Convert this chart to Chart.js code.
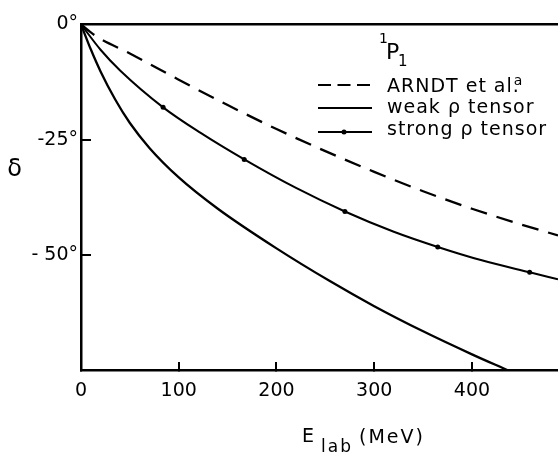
<!DOCTYPE html>
<html>
<head>
<meta charset="utf-8">
<script src="https://cdn.jsdelivr.net/npm/chart.js@4.4.0/dist/chart.umd.min.js"></script>
<style>
  html, body { margin: 0; padding: 0; background: #fff; }
</style>
</head>
<body>
<canvas id="phaseChart" width="558" height="453"></canvas>
<script>
// 1P1 phase shift vs lab energy
const xTicks = [0, 100, 200, 300, 400];
const xTickLabels = ['0', '100', '200', '300', '400'];
const yTicks = [0, -25, -50];
const yTickLabels = ['0°', '-25°', '- 50°'];

const arndtE     = [0, 15, 50, 100, 150, 200, 250, 300, 350, 400, 450, 488];
const arndtDelta = [0, -2.5, -6.3, -12, -17.5, -22.7, -27.5, -32, -36.2, -40, -43.4, -45.8];

const weakE     = [0, 10, 20, 35, 50, 70, 100, 140, 200, 255, 300, 350, 400, 436];
const weakDelta = [0, -5.4, -10.2, -16.3, -21.4, -26.8, -33.2, -40.0, -48.6, -55.75, -61.15, -66.6, -71.6, -75];

const strongE     = [0, 20, 40, 84, 122, 167, 220, 270, 320, 365, 410, 459, 488];
const strongDelta = [0, -5.5, -10, -18, -23.5, -29.3, -35.5, -40.6, -45, -48.3, -51.2, -53.8, -55.3];
const strongDotE  = [84, 167, 270, 365, 459];

const legendLabels = ['ARNDT et al.', 'weak ρ tensor', 'strong ρ tensor'];

const FONT = '"DejaVu Sans", sans-serif';

function pts(xs, ys) {
  return xs.map((x, i) => ({ x: x, y: ys[i] }));
}

const annotations = {
  id: 'annotations',
  afterDraw(chart) {
    const ctx = chart.ctx;
    ctx.save();
    ctx.fillStyle = '#000';
    ctx.strokeStyle = '#000';
    ctx.textBaseline = 'alphabetic';
    ctx.textAlign = 'left';
    ctx.letterSpacing = '1px';

    // state label 1P1
    ctx.font = '14px ' + FONT;
    ctx.fillText('1', 379, 43);
    ctx.font = '22px ' + FONT;
    ctx.fillText('P', 386, 59);
    ctx.font = '15px ' + FONT;
    ctx.fillText('1', 398, 66);

    // legend
    const rows = [85, 108, 132];
    const base = [92, 113, 135];
    const dashes = [[13, 6.5], [], []];
    chart.data.datasets.forEach((ds, i) => {
      ctx.save();
      ctx.lineWidth = 2;
      ctx.setLineDash(dashes[i]);
      ctx.beginPath();
      ctx.moveTo(318, rows[i]);
      ctx.lineTo(372, rows[i]);
      ctx.stroke();
      ctx.restore();
      if (i === 2) {
        ctx.beginPath();
        ctx.arc(344, rows[i], 2.5, 0, Math.PI * 2);
        ctx.fill();
      }
      ctx.font = '19px ' + FONT;
      ctx.fillText(legendLabels[i], 387, base[i]);
    });
    ctx.font = '19px ' + FONT;
    const w = ctx.measureText('ARNDT et al').width;
    ctx.font = '14px ' + FONT;
    ctx.fillText('a', 387 + w + 1, 85);

    // axis titles
    ctx.font = '24px ' + FONT;
    ctx.textAlign = 'center';
    ctx.fillText('δ', 15, 176);
    ctx.textAlign = 'left';
    ctx.letterSpacing = '2px';
    ctx.font = '19px ' + FONT;
    ctx.fillText('E', 302, 442);
    ctx.font = '17px ' + FONT;
    ctx.fillText('lab', 321, 452);
    ctx.font = '19px ' + FONT;
    ctx.fillText('(MeV)', 359, 443);
    ctx.restore();
  }
};

const ctx = document.getElementById('phaseChart').getContext('2d');
new Chart(ctx, {
  type: 'line',
  data: {
    datasets: [
      {
        label: 'ARNDT et al.',
        data: pts(arndtE, arndtDelta),
        borderColor: '#000',
        borderWidth: 2.3,
        borderDash: [17, 10],
        pointRadius: 0,
        cubicInterpolationMode: 'monotone'
      },
      {
        label: 'weak ρ tensor',
        data: pts(weakE, weakDelta),
        borderColor: '#000',
        borderWidth: 2.3,
        pointRadius: 0,
        cubicInterpolationMode: 'monotone'
      },
      {
        label: 'strong ρ tensor',
        data: pts(strongE, strongDelta),
        borderColor: '#000',
        backgroundColor: '#000',
        borderWidth: 2,
        pointRadius: c => (strongDotE.includes(strongE[c.dataIndex]) ? 2.5 : 0),
        pointBorderWidth: 0,
        cubicInterpolationMode: 'monotone'
      }
    ]
  },
  options: {
    responsive: false,
    animation: false,
    layout: { padding: 0 },
    plugins: {
      legend: { display: false },
      tooltip: { enabled: false }
    },
    scales: {
      x: {
        type: 'linear',
        position: 'bottom',
        min: 0,
        max: 488,
        afterBuildTicks: s => { s.ticks = xTicks.map(v => ({ value: v })); },
        afterFit: s => { s.height = 83; },
        ticks: {
          callback: (v) => xTickLabels[xTicks.indexOf(v)],
          color: '#000',
          font: { family: FONT, size: 19 },
          padding: 18,
          maxRotation: 0,
          autoSkip: false
        },
        grid: { display: true, drawOnChartArea: false, drawTicks: true, tickLength: -8, color: '#000', lineWidth: 2 },
        border: { display: true, color: '#000', width: 2.5 }
      },
      xTop: {
        type: 'linear',
        position: 'top',
        min: 0,
        max: 488,
        afterFit: s => { s.height = 20; },
        ticks: { display: false },
        grid: { display: false },
        border: { display: true, color: '#000', width: 2.5 }
      },
      y: {
        type: 'linear',
        position: 'left',
        min: -75,
        max: 0,
        afterBuildTicks: s => { s.ticks = yTicks.map(v => ({ value: v })); },
        afterFit: s => { s.width = 81; },
        ticks: {
          callback: (v) => yTickLabels[yTicks.indexOf(v)],
          color: '#000',
          font: { family: FONT, size: 19 },
          padding: 13,
          autoSkip: false
        },
        grid: { display: true, drawOnChartArea: false, drawTicks: true, tickLength: -10, color: '#000', lineWidth: 2 },
        border: { display: true, color: '#000', width: 2.5 }
      }
    }
  },
  plugins: [annotations]
});
</script>
</body>
</html>
